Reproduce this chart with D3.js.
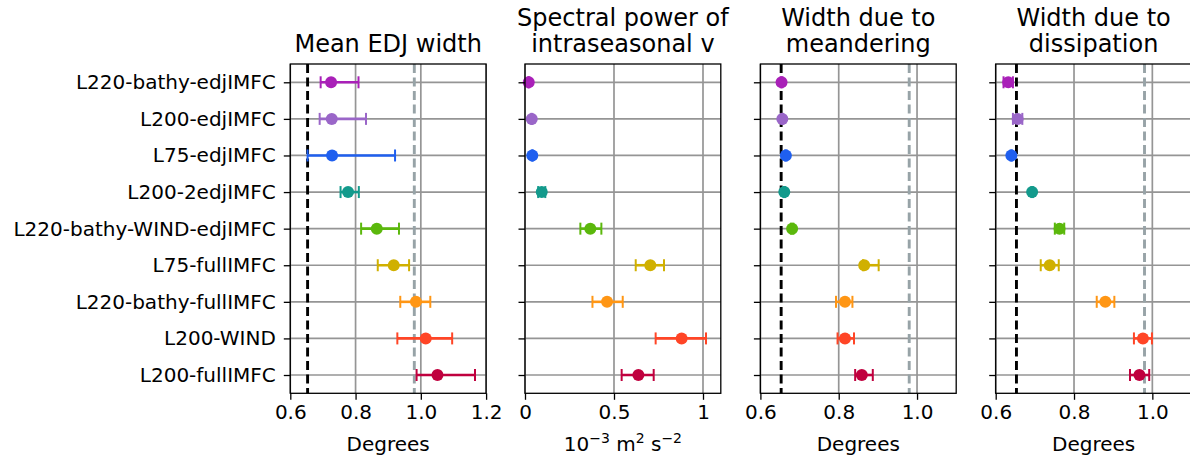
<!DOCTYPE html>
<html>
<head>
<meta charset="utf-8">
<script src="https://cdn.jsdelivr.net/npm/d3@7"></script>
<style>
  html, body { margin: 0; padding: 0; background: #fff; }
  svg { display: block; font-family: "DejaVu Sans", sans-serif; }
</style>
</head>
<body>
<svg id="chart" width="1190" height="458"></svg>
<script>
const categories = ["L220-bathy-edjIMFC","L200-edjIMFC","L75-edjIMFC","L200-2edjIMFC","L220-bathy-WIND-edjIMFC","L75-fullIMFC","L220-bathy-fullIMFC","L200-WIND","L200-fullIMFC"];
const colors = ["#a920b8","#9a66c8","#1f5fef","#139a8c","#5bb80c","#d0b000","#ff9614","#ff4526","#c0003e"];

const titles = [["Mean EDJ width"],["Spectral power of","intraseasonal v"],["Width due to","meandering"],["Width due to","dissipation"]];

const meanWidth    = [0.725,0.727,0.728,0.777,0.865,0.917,0.985,1.015,1.051];
const meanWidthLo  = [0.693,0.690,0.653,0.754,0.817,0.868,0.937,0.928,0.987];
const meanWidthHi  = [0.809,0.832,0.921,0.810,0.933,0.964,1.029,1.096,1.166];

const spectral     = [0.021,0.038,0.041,0.094,0.367,0.704,0.461,0.880,0.637];
const spectralLo   = [0.018,0.035,0.038,0.074,0.311,0.622,0.379,0.734,0.543];
const spectralHi   = [0.024,0.041,0.044,0.114,0.429,0.781,0.549,1.017,0.723];

const meander      = [0.654,0.656,0.665,0.661,0.681,0.865,0.816,0.816,0.859];
const meanderLo    = [0.652,0.654,0.663,0.659,0.678,0.862,0.793,0.797,0.842];
const meanderHi    = [0.656,0.658,0.667,0.663,0.684,0.902,0.835,0.839,0.887];

const dissip       = [0.632,0.656,0.640,0.693,0.763,0.738,0.880,0.976,0.967];
const dissipLo     = [0.620,0.644,0.638,0.691,0.751,0.715,0.858,0.953,0.943];
const dissipHi     = [0.644,0.668,0.642,0.695,0.775,0.761,0.903,0.999,0.992];

const xDomains = [[0.6,1.2],[0,1.1],[0.6,1.1],[0.6,1.1]];
const xTicks = [[0.6,0.8,1.0,1.2],[0,0.5,1],[0.6,0.8,1.0],[0.6,0.8,1.0]];
const xTickFormats = [d3.format(".1f"), d => d3.format("~g")(d), d3.format(".1f"), d3.format(".1f")];
const refBlack = 0.653;
const refGray = 0.98;
const showRefs = [true,false,true,true];

const panels = [
  {mean: meanWidth, lo: meanWidthLo, hi: meanWidthHi},
  {mean: spectral, lo: spectralLo, hi: spectralHi},
  {mean: meander, lo: meanderLo, hi: meanderHi},
  {mean: dissip, lo: dissipLo, hi: dissipHi}
];

const svg = d3.select("#chart");
const left0 = [290.3, 525, 760.4, 995.7];
const pw = 195.8;
const plotTop = 64, plotBottom = 393.3;
const tickFont = 20, titleFont = 24;

const y = d3.scaleLinear().domain([-0.5, 8.5]).range([plotTop, plotBottom]);

panels.forEach((p, i) => {
  const x0 = left0[i];
  const x = d3.scaleLinear().domain(xDomains[i]).range([x0, x0 + pw]);
  const g = svg.append("g");

  g.selectAll(".vg").data(xTicks[i]).enter().append("line")
    .attr("x1", d => x(d)).attr("x2", d => x(d))
    .attr("y1", plotTop).attr("y2", plotBottom)
    .attr("stroke", "#959595").attr("stroke-width", 1.7);
  g.selectAll(".hg").data(categories).enter().append("line")
    .attr("x1", x0).attr("x2", x0 + pw)
    .attr("y1", (d, j) => y(j)).attr("y2", (d, j) => y(j))
    .attr("stroke", "#959595").attr("stroke-width", 1.7);

  if (showRefs[i]) {
    g.append("line").attr("x1", x(refBlack)).attr("x2", x(refBlack))
      .attr("y1", plotTop).attr("y2", plotBottom)
      .attr("stroke", "#000").attr("stroke-width", 2.9).attr("stroke-dasharray", "9,4.5");
    g.append("line").attr("x1", x(refGray)).attr("x2", x(refGray))
      .attr("y1", plotTop).attr("y2", plotBottom)
      .attr("stroke", "#97a3a7").attr("stroke-width", 2.9).attr("stroke-dasharray", "9,4.5");
  }

  const rows = g.selectAll(".row").data(categories).enter().append("g");
  rows.append("line")
    .attr("x1", (d, j) => x(p.lo[j])).attr("x2", (d, j) => x(p.hi[j]))
    .attr("y1", (d, j) => y(j)).attr("y2", (d, j) => y(j))
    .attr("stroke", (d, j) => colors[j]).attr("stroke-width", 2.6);
  rows.append("line")
    .attr("x1", (d, j) => x(p.lo[j])).attr("x2", (d, j) => x(p.lo[j]))
    .attr("y1", (d, j) => y(j) - 6).attr("y2", (d, j) => y(j) + 6)
    .attr("stroke", (d, j) => colors[j]).attr("stroke-width", 2);
  rows.append("line")
    .attr("x1", (d, j) => x(p.hi[j])).attr("x2", (d, j) => x(p.hi[j]))
    .attr("y1", (d, j) => y(j) - 6).attr("y2", (d, j) => y(j) + 6)
    .attr("stroke", (d, j) => colors[j]).attr("stroke-width", 2);
  rows.append("circle")
    .attr("cx", (d, j) => x(p.mean[j])).attr("cy", (d, j) => y(j))
    .attr("r", 6).attr("fill", (d, j) => colors[j]);

  g.append("rect").attr("x", x0).attr("y", plotTop).attr("width", pw).attr("height", plotBottom - plotTop)
    .attr("fill", "none").attr("stroke", "#000").attr("stroke-width", 1.3);

  const xa = d3.axisBottom(x).tickValues(xTicks[i]).tickFormat(xTickFormats[i]).tickSize(6.5).tickPadding(5);
  const xg = g.append("g").attr("transform", `translate(0,${plotBottom})`).call(xa);
  xg.select(".domain").remove();
  xg.selectAll(".tick line").attr("stroke", "#000").attr("stroke-width", 1.3);
  xg.selectAll(".tick text").attr("font-size", tickFont).attr("fill", "#000")
    .attr("font-family", "DejaVu Sans");

  const ya = d3.axisLeft(y).tickValues(d3.range(categories.length))
    .tickFormat(j => i === 0 ? categories[j] : "").tickSize(6.5).tickPadding(8);
  const yg = g.append("g").attr("transform", `translate(${x0},0)`).call(ya);
  yg.select(".domain").remove();
  yg.selectAll(".tick line").attr("stroke", "#000").attr("stroke-width", 1.3);
  yg.selectAll(".tick text").attr("font-size", tickFont).attr("fill", "#000")
    .attr("font-family", "DejaVu Sans");

  const cx = x0 + pw / 2;
  const tl = titles[i];
  tl.forEach((line, k) => {
    g.append("text").attr("x", cx)
      .attr("y", 51.7 - (tl.length - 1 - k) * 26)
      .attr("text-anchor", "middle").attr("font-size", titleFont).attr("fill", "#000")
      .text(line);
  });

  const xl = g.append("text").attr("x", cx).attr("y", 451)
    .attr("text-anchor", "middle").attr("font-size", tickFont).attr("fill", "#000");
  if (i === 1) {
    xl.append("tspan").text("10");
    xl.append("tspan").attr("font-size", 14).attr("dy", -8).text("\u22123");
    xl.append("tspan").attr("dy", 8).text(" m");
    xl.append("tspan").attr("font-size", 14).attr("dy", -8).text("2");
    xl.append("tspan").attr("dy", 8).text(" s");
    xl.append("tspan").attr("font-size", 14).attr("dy", -8).text("\u22122");
  } else {
    xl.text("Degrees");
  }
});
</script>
</body>
</html>
